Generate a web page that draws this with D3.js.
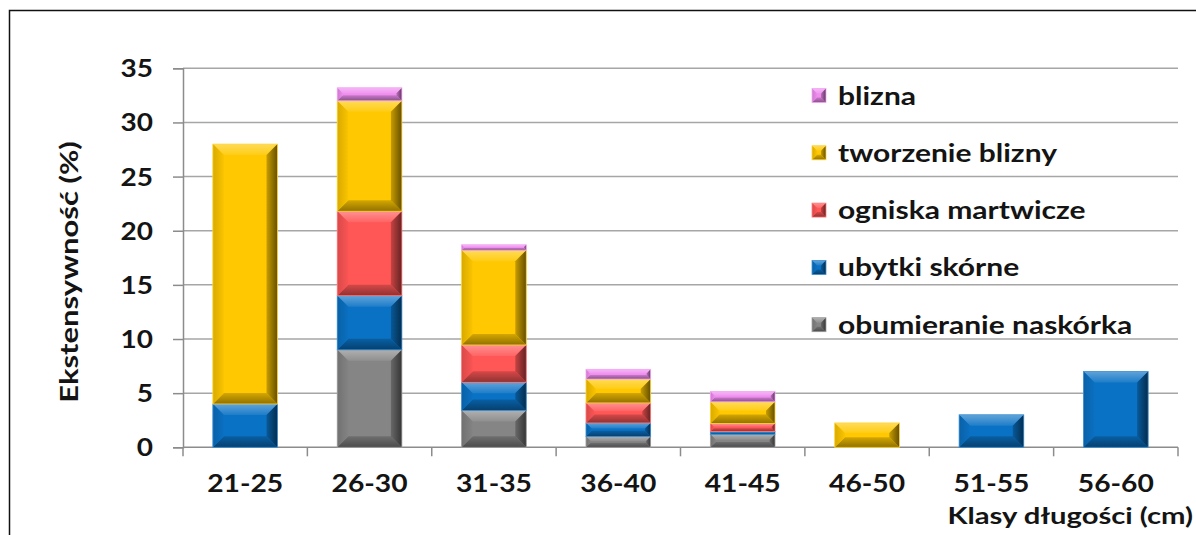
<!DOCTYPE html>
<html>
<head>
<meta charset="utf-8">
<script src="https://cdn.jsdelivr.net/npm/d3@7"></script>
<style>
  html, body { margin: 0; padding: 0; background: #fff; overflow: hidden; }
  svg { display: block; }
  text { font-family: Lato, "Open Sans", sans-serif; font-weight: bold; fill: #141414; }
</style>
</head>
<body>
<svg id="chart" width="1196" height="535"></svg>
<script>
// Length classes (cm)
const categories = ["21-25", "26-30", "31-35", "36-40", "41-45", "46-50", "51-55", "56-60"];

// Prevalence (%) of each lesion type per length class, stacked bottom to top
const obumieranie = [0, 9.0, 3.4, 1.0, 1.2, 0, 0, 0];
const ubytki      = [4.0, 5.0, 2.6, 1.25, 0.25, 0, 3.0, 7.0];
const ogniska     = [0, 7.8, 3.45, 1.85, 0.75, 0, 0, 0];
const tworzenie   = [24.0, 10.2, 8.75, 2.2, 2.0, 2.25, 0, 0];
const blizna      = [0, 1.2, 0.5, 0.9, 0.95, 0, 0, 0];

const seriesNames = ["obumieranie naskórka", "ubytki skórne", "ogniska martwicze", "tworzenie blizny", "blizna"];
const seriesValues = [obumieranie, ubytki, ogniska, tworzenie, blizna];
const seriesColors = ["#858585", "#0a72c4", "#ff5656", "#ffc800", "#f08ef0"];

const yTicks = [0, 5, 10, 15, 20, 25, 30, 35];
const yTitle = "Ekstensywność (%)";
const xTitle = "Klasy długości (cm)";

const svg = d3.select("#chart");
const defs = svg.append("defs");

// Text drawn with a horizontal stretch (wide bold face)
function label(g, x, y, str, size, anchor, sx, rotate) {
  const rot = rotate ? ` rotate(${rotate})` : "";
  return g.append("text")
    .attr("transform", `translate(${x},${y})${rot} scale(${sx},1)`)
    .attr("text-anchor", anchor)
    .attr("font-size", size)
    .text(str);
}

// Frame around the chart area
svg.append("rect")
  .attr("x", 9.5).attr("y", 10.5)
  .attr("width", 1300).attr("height", 700)
  .attr("fill", "none").attr("stroke", "#111").attr("stroke-width", 1.5);

const plot = { left: 183, right: 1178, top: 68.3, bottom: 447.3 };

const x = d3.scaleBand()
  .domain(categories)
  .range([plot.left, plot.right])
  .paddingInner(0.48)
  .paddingOuter(0.24);

const y = d3.scaleLinear().domain([0, 35]).range([plot.bottom, plot.top]);

// Gridlines
svg.append("g").selectAll("line")
  .data(yTicks.filter(d => d > 0))
  .join("line")
  .attr("x1", plot.left).attr("x2", plot.right)
  .attr("y1", d => y(d)).attr("y2", d => y(d))
  .attr("stroke", "#a6a6a6").attr("stroke-width", 1.5);

// Y axis
const yAxis = d3.axisLeft(y).tickValues(yTicks).tickSize(10).tickFormat("");
const gy = svg.append("g").attr("transform", `translate(${plot.left},0)`).call(yAxis);
gy.select(".domain").attr("stroke", "#8c8c8c").attr("stroke-width", 1.5);
gy.selectAll(".tick line").attr("stroke", "#8c8c8c").attr("stroke-width", 1.5);
const yLabels = svg.append("g");
yTicks.forEach(t => label(yLabels, 153, y(t) + 9, String(t), 25, "end", 1.12));

// X axis: ticks sit on band boundaries
const step = x.step();
const boundaries = d3.range(categories.length + 1).map(i => plot.left + i * step);
const gx = svg.append("g");
gx.append("line")
  .attr("x1", plot.left).attr("x2", plot.right)
  .attr("y1", plot.bottom).attr("y2", plot.bottom)
  .attr("stroke", "#8c8c8c").attr("stroke-width", 1.5);
gx.selectAll("line.tk").data(boundaries).join("line")
  .attr("class", "tk")
  .attr("x1", d => d).attr("x2", d => d)
  .attr("y1", plot.bottom).attr("y2", plot.bottom + 9)
  .attr("stroke", "#8c8c8c").attr("stroke-width", 1.5);
categories.forEach(c => label(gx, x(c) + x.bandwidth() / 2, 492, c, 25, "middle", 1.13));

// Axis titles
label(svg, 78, 272, yTitle, 25, "middle", 1.24, -90);
label(svg, 1193, 524, xTitle, 23, "end", 1.27);

// Gradients for the bevel facets of one colour
const gradCache = {};
function facetGradients(color) {
  if (gradCache[color]) return gradCache[color];
  const c = d3.color(color);
  const mixW = t => d3.interpolateRgb(color, "#ffffff")(t);
  const key = color.replace("#", "");
  const spec = {
    top:    { x2: 0, y2: 1, stops: [mixW(0.35), mixW(0.08)] },
    bottom: { x2: 0, y2: 1, stops: [c.darker(0.5).formatHex(), c.darker(1.6).formatHex()] },
    left:   { x2: 1, y2: 0, stops: [c.darker(0.45).formatHex(), c.darker(0.05).formatHex()] },
    right:  { x2: 1, y2: 0, stops: [c.darker(0.7).formatHex(), c.darker(2.6).formatHex()] }
  };
  const ids = {};
  Object.entries(spec).forEach(([side, s]) => {
    const id = `g-${key}-${side}`;
    const lg = defs.append("linearGradient").attr("id", id)
      .attr("x1", 0).attr("y1", 0).attr("x2", s.x2).attr("y2", s.y2);
    lg.append("stop").attr("offset", 0).attr("stop-color", s.stops[0]);
    lg.append("stop").attr("offset", 1).attr("stop-color", s.stops[1]);
    ids[side] = `url(#${id})`;
  });
  gradCache[color] = ids;
  return ids;
}

// Bevelled rectangle: flat face plus four shaded edge facets
function bevelRect(g, x0, y0, w, h, color, maxBevel) {
  if (h <= 0 || w <= 0) return;
  const b = Math.max(0.5, Math.min(maxBevel, h / 2.4, w / 2.4));
  const x1 = x0 + w, y1 = y0 + h;
  const gr = facetGradients(color);
  g.append("rect").attr("x", x0).attr("y", y0).attr("width", w).attr("height", h).attr("fill", color);
  const facets = [
    { pts: [[x0, y0], [x1, y0], [x1 - b, y0 + b], [x0 + b, y0 + b]], fill: gr.top },
    { pts: [[x0, y1], [x1, y1], [x1 - b, y1 - b], [x0 + b, y1 - b]], fill: gr.bottom },
    { pts: [[x0, y0], [x0 + b, y0 + b], [x0 + b, y1 - b], [x0, y1]], fill: gr.left },
    { pts: [[x1, y0], [x1 - b, y0 + b], [x1 - b, y1 - b], [x1, y1]], fill: gr.right }
  ];
  facets.forEach(f => {
    g.append("polygon").attr("points", f.pts.map(p => p.join(",")).join(" ")).attr("fill", f.fill);
  });
  g.append("rect").attr("x", x0).attr("y", y0).attr("width", w).attr("height", h)
    .attr("fill", "none").attr("stroke", d3.interpolateRgb(color, "#ffffff")(0.25)).attr("stroke-width", 0.8);
}

// Stacked bars
const stackData = categories.map((c, i) => {
  const row = { cat: c };
  seriesNames.forEach((n, s) => row[n] = seriesValues[s][i]);
  return row;
});
const stacked = d3.stack().keys(seriesNames)(stackData);

const barsG = svg.append("g");
stacked.forEach((layer, s) => {
  layer.forEach(seg => {
    const v = seg[1] - seg[0];
    if (v <= 0) return;
    const cat = seg.data.cat;
    const top = y(seg[1]);
    const h = y(seg[0]) - top;
    bevelRect(barsG, x(cat), top, x.bandwidth(), h, seriesColors[s], 11);
  });
});

// Legend, top entry is the top of the stack
const legendOrder = d3.range(seriesNames.length).reverse();
const legend = svg.append("g");
legendOrder.forEach((s, i) => {
  const cy = 95.5 + i * 57.3;
  bevelRect(legend, 812, cy - 7, 14, 14, seriesColors[s], 5);
  label(legend, 838, cy + 9, seriesNames[s], 25, "start", 1.2);
});
</script>
</body>
</html>
